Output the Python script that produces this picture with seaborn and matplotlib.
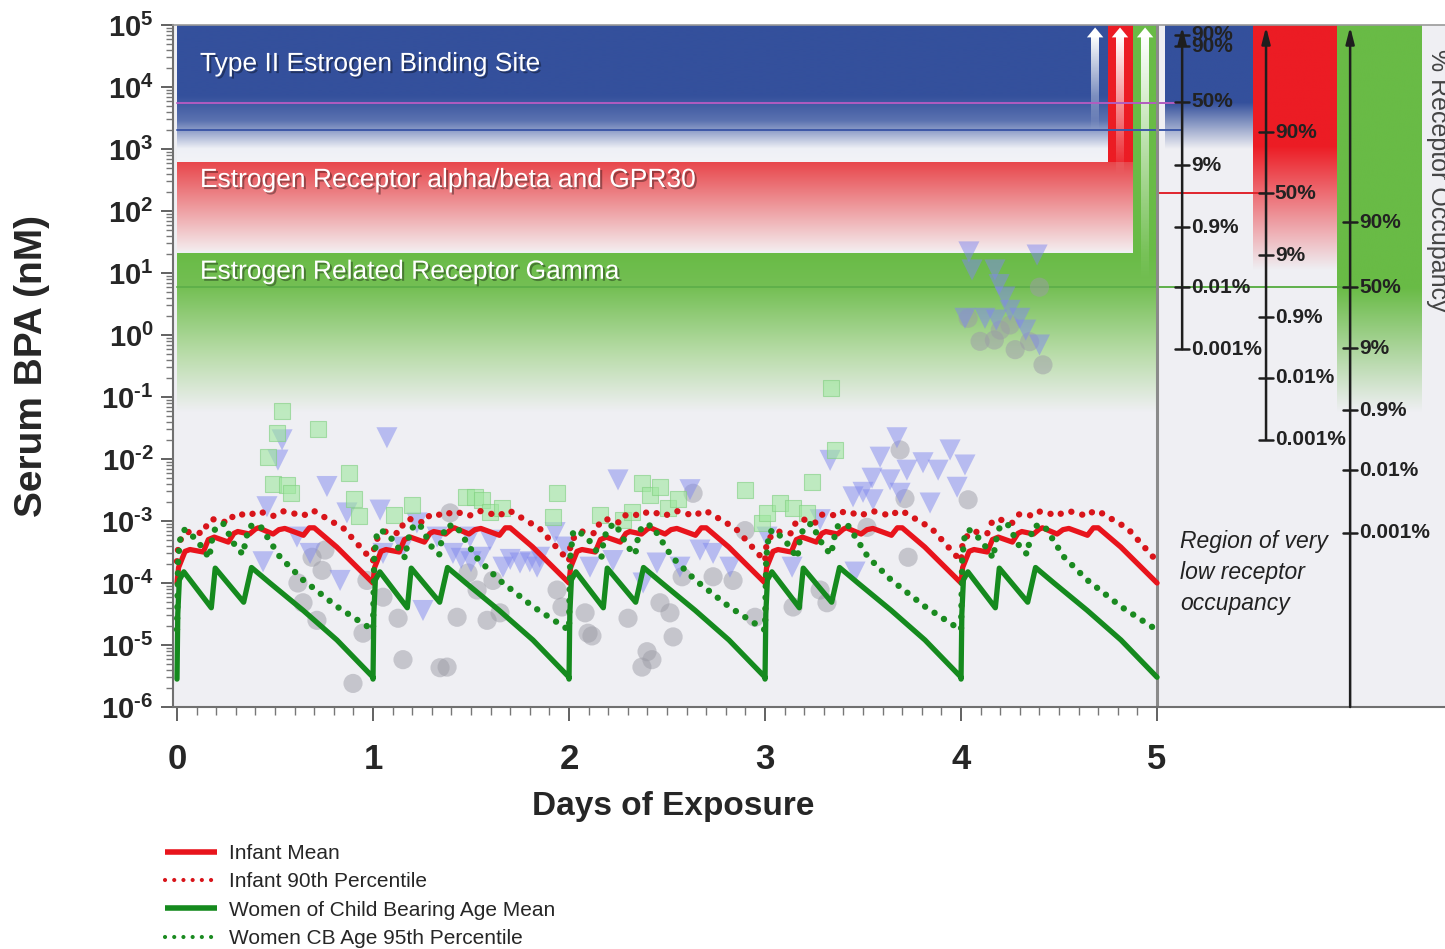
import numpy as np
import pandas as pd
import matplotlib
matplotlib.use("Agg")
import matplotlib.pyplot as plt
import matplotlib.patheffects as pe
from matplotlib.colors import to_rgba
from matplotlib.lines import Line2D
from matplotlib.ticker import FixedLocator, LogLocator, NullFormatter, FixedFormatter
import seaborn as sns

# ---------------------------------------------------------------- data
DAYS = [0, 1, 2, 3, 4]
X_TICKS = [0, 1, 2, 3, 4, 5]
Y_EXPONENTS = [-6, -5, -4, -3, -2, -1, 0, 1, 2, 3, 4, 5]

# one-day serum profiles (fraction of day, log10 nM); same every day
infant_mean_t = [0.0, 0.008, 0.041, 0.066, 0.134, 0.16, 0.19, 0.262, 0.29, 0.31, 0.37,
                 0.40, 0.415, 0.49, 0.52, 0.55, 0.645, 0.675, 0.70, 0.815, 1.0]
infant_mean_lv = [-4.0, -3.75, -3.49, -3.46, -3.50, -3.30, -3.26, -3.34, -3.20, -3.17, -3.21,
                  -3.13, -3.11, -3.21, -3.14, -3.12, -3.23, -3.11, -3.11, -3.42, -4.0]
infant_p90_t = [0.0, 0.008, 0.041, 0.066, 0.134, 0.16, 0.19, 0.262, 0.29, 0.31, 0.37,
                0.40, 0.415, 0.49, 0.52, 0.55, 0.645, 0.675, 0.70, 0.85, 1.0]
infant_p90_lv = [-3.65, -3.35, -3.2, -3.17, -3.2, -3.0, -2.97, -3.03, -2.9, -2.88, -2.92,
                 -2.85, -2.84, -2.92, -2.86, -2.84, -2.92, -2.84, -2.84, -3.12, -3.65]
women_mean_t = [0.0, 0.004, 0.012, 0.035, 0.175, 0.195, 0.340, 0.380, 0.474, 0.643, 0.816, 1.0]
women_mean_lv = [-5.55, -4.5, -3.95, -3.82, -4.40, -3.76, -4.31, -3.75, -4.0, -4.44, -4.92, -5.52]
women_p95_t = [0.0, 0.006, 0.02, 0.04, 0.1, 0.165, 0.175, 0.195, 0.236, 0.3, 0.338, 0.35,
               0.372, 0.423, 0.525, 0.643, 0.816, 1.0]
women_p95_lv = [-4.75, -3.6, -3.2, -3.14, -3.3, -3.6, -3.35, -3.12, -3.04, -3.42, -3.54, -3.3,
                -3.08, -3.07, -3.58, -3.95, -4.38, -4.76]

# biomonitoring points (days, nM)
circ_t = [0.898, 1.153, 1.342, 1.378, 0.949, 0.714, 0.643, 0.617, 0.74, 0.689, 0.755, 0.969,
          1.051, 1.128, 1.429, 1.485, 1.531, 1.582, 1.648, 1.612, 1.393, 1.939, 1.964, 2.082,
          2.097, 2.117, 2.301, 2.398, 2.423, 2.372, 2.531, 2.515, 2.464, 2.577, 2.735, 2.837,
          2.898, 2.949, 3.143, 3.316, 3.281, 3.73, 3.689, 3.714, 4.036, 3.52, 2.633,
          4.036, 4.097, 4.17, 4.2, 4.276, 4.35, 4.40, 4.418, 4.25]
circ_v = [2.4e-6, 5.8e-6, 4.3e-6, 4.4e-6, 1.55e-5, 2.5e-5, 4.8e-5, 1e-4, 1.6e-4, 2.6e-4, 3.4e-4, 1.1e-4,
          5.9e-5, 2.7e-5, 2.8e-5, 1.45e-4, 7.7e-5, 2.5e-5, 3.3e-5, 1.1e-4, 1.35e-3, 7.7e-5, 4.1e-5, 3.3e-5,
          1.55e-5, 1.4e-5, 2.7e-5, 7.8e-6, 5.8e-6, 4.4e-6, 1.35e-5, 3.3e-5, 4.8e-5, 1.26e-4, 1.26e-4, 1.1e-4,
          7e-4, 2.8e-5, 4.1e-5, 4.8e-5, 7.7e-5, 2.6e-4, 0.014, 2.3e-3, 2.2e-3, 7.9e-4, 2.8e-3,
          1.86, 0.79, 0.83, 1.2, 0.58, 0.78, 5.9, 0.33, 1.45]
tri_t = [0.536, 0.515, 0.459, 0.765, 1.071, 1.036, 0.867, 0.439, 0.832, 1.255, 1.051, 0.679,
         0.612, 1.153, 1.408, 1.663, 1.75, 1.837, 1.929, 1.98, 1.224, 1.327, 1.495, 1.597,
         1.45, 1.5, 1.55, 1.7, 1.8, 1.85,
         2.25, 2.617, 2.668, 2.566, 2.449, 2.224, 2.107, 2.378, 3.332, 3.459, 3.673, 3.587,
         3.546, 3.5, 3.638, 3.724, 3.806, 3.883, 3.944, 4.02, 3.842, 3.98, 3.689, 3.551,
         3.449, 3.281, 3.138, 3.01, 2.821, 2.735,
         4.04, 4.388, 4.056, 4.173, 4.194, 4.224, 4.25, 4.122, 4.02, 4.3, 4.33, 4.40, 4.18]
tri_v = [0.0204, 0.0096, 1.7e-3, 3.6e-3, 0.022, 1.5e-3, 1.35e-3, 2.2e-4, 1.1e-4, 3.6e-5, 3e-4, 3e-4,
         5.5e-4, 3.8e-4, 3e-4, 1.8e-4, 2.1e-4, 1.8e-4, 6.5e-4, 3.8e-4, 9.3e-4, 5.5e-4, 5.5e-4, 4.9e-4,
         2.5e-4, 2.2e-4, 2.6e-4, 2.4e-4, 2.2e-4, 2.6e-4,
         4.6e-3, 3.2e-3, 3.4e-4, 1.8e-4, 2.1e-4, 2.3e-4, 1.8e-4, 1e-4, 9.5e-3, 1.5e-4, 0.022, 0.0107,
         4.9e-3, 2.9e-3, 4.6e-3, 6.6e-3, 8.7e-3, 6.6e-3, 0.014, 8e-3, 1.95e-3, 3.5e-3, 2.8e-3, 2.2e-3,
         2.45e-3, 1.05e-3, 1.8e-4, 5.5e-4, 1.8e-4, 3e-4,
         21.9, 19.5, 11.2, 11.2, 6.5, 4.1, 2.5, 1.86, 1.86, 1.86, 1.2, 0.69, 1.74]
sq_t = [0.536, 0.51, 0.464, 0.49, 0.561, 0.582, 0.719, 0.878, 0.903, 0.929, 1.107, 1.199,
        1.474, 1.52, 1.556, 1.597, 1.658, 1.939, 1.918, 2.158, 2.276, 2.321, 2.372, 2.413,
        2.464, 2.505, 2.556, 2.898, 2.985, 3.01, 3.077, 3.143, 3.214, 3.24, 3.357, 3.337]
sq_v = [0.059, 0.026, 0.0107, 0.004, 0.0038, 0.0028, 0.03, 0.0059, 0.0023, 0.0012, 0.00126, 0.0018,
        0.00245, 0.00245, 0.0022, 0.0014, 0.0016, 0.0028, 0.00115, 0.00126, 0.00105, 0.0014, 0.0041, 0.0026,
        0.0035, 0.0016, 0.0023, 0.0032, 0.00093, 0.00135, 0.00195, 0.0016, 0.00135, 0.0043, 0.0141, 0.14]

# receptor affinity lines (log10 nM) and their x extents (days)
kd_lv = [3.74, 3.31, 2.29, 0.77]
kd_x0 = [0.0, 0.0, 5.0, 0.0]
kd_x1 = [5.128, 5.128, 5.556, 5.985]
kd_color = ["#b25cc0", "#3d58a8", "#e0242c", "#5fb04a"]

# occupancy scales
scale_x = [5.128, 5.556, 5.985]
scale_bottom_lv = [-0.23, -1.69, -6.0]
blue_occ_lv = [4.84, 4.66, 3.76, 2.74, 1.74, 0.77, -0.23]
blue_occ_lab = ["90%", "90%", "50%", "9%", "0.9%", "0.01%", "0.001%"]
red_occ_lv = [3.27, 2.29, 1.29, 0.29, -0.69, -1.69]
green_occ_lv = [1.82, 0.77, -0.21, -1.21, -2.18, -3.19]
occ_lab = ["90%", "50%", "9%", "0.9%", "0.01%", "0.001%"]

band_labels = ["Type II Estrogen Binding Site", "Estrogen Receptor alpha/beta and GPR30",
               "Estrogen Related Receptor Gamma"]
band_label_lv = [4.37, 2.5, 1.02]
legend_labels = ["Infant Mean", "Infant 90th Percentile",
                 "Women of Child Bearing Age Mean", "Women CB Age 95th Percentile"]

# ---------------------------------------------------------------- style
sns.set_theme(style="ticks")
REG = ["Liberation Sans", "DejaVu Sans"]
plt.rcParams["font.family"] = REG
plt.rcParams["mathtext.fontset"] = "custom"
plt.rcParams["mathtext.rm"] = "Liberation Sans"
plt.rcParams["mathtext.bf"] = "Liberation Sans:bold"
plt.rcParams["mathtext.it"] = "Liberation Sans:italic"

BG = "#efeff3"
BLUE = "#34509c"
RED = "#ec1c24"
GREEN = "#69bb46"
RED_CURVE = "#e8141c"
GREEN_CURVE = "#158a1e"

fig = plt.figure(figsize=(14.45, 9.49), dpi=100)
W, H = 1445, 949
ax = fig.add_axes([173 / W, 1 - 707 / H, 1 - 173 / W, 682 / H])
ax.set_facecolor(BG)
ax.set_yscale("log")

XMIN, XMAX = -0.0204, 6.469
LVMIN, LVMAX = -6.0, 5.0


def fx(t):
    return (t - XMIN) / (XMAX - XMIN)


def fy(lv):
    return (lv - LVMIN) / (LVMAX - LVMIN)


def grad_rect(x0, x1, stops, z=0.5):
    lvs = np.array([s[0] for s in stops], dtype=float)
    cols = np.array([to_rgba(s[1], s[2] if len(s) > 2 else 1.0) for s in stops])
    order = np.argsort(lvs)
    lvs, cols = lvs[order], cols[order]
    top, bot = lvs.max(), lvs.min()
    n = 400
    grid = np.linspace(top, bot, n)
    img = np.stack([np.interp(grid, lvs, cols[:, k]) for k in range(4)], axis=-1).reshape(n, 1, 4)
    ax.imshow(img, extent=[fx(x0), fx(x1), fy(bot), fy(top)], transform=ax.transAxes,
              aspect="auto", interpolation="bilinear", origin="upper", zorder=z)


# receptor bands
grad_rect(0.0, 4.75, [(5.0, BLUE), (3.85, BLUE), (3.45, "#5b72b0"), (3.0, "#eef0f6"), (2.77, "#f3f3f7")])
grad_rect(4.75, 4.877, [(5.0, RED), (2.77, RED)])
grad_rect(0.0, 4.877, [(2.77, "#e8464b"), (1.35, "#f4ecee")])
grad_rect(4.877, 5.0, [(5.0, GREEN), (1.3, GREEN)])
grad_rect(0.0, 5.0, [(1.3, GREEN), (0.75, "#74bf54"), (-0.3, "#b8dca8"), (-1.25, BG)])
# right-hand occupancy columns
grad_rect(5.04, 5.49, [(5.0, BLUE), (3.75, BLUE), (3.0, BG)])
grad_rect(5.49, 5.92, [(5.0, RED), (3.05, RED), (1.05, BG)])
grad_rect(5.92, 6.35, [(5.0, GREEN), (0.75, GREEN), (-1.25, BG)])

# white arrows in the bands
arrow_x = [4.684, 4.811, 4.939]
arrow_bottom_lv = [3.31, 2.6, 0.9]
for xa, lb in zip(arrow_x, arrow_bottom_lv):
    grad_rect(xa - 0.02, xa + 0.02, [(4.82, "white", 1.0), (lb, "white", 0.0)], z=0.7)
    hw = 0.042
    ax.fill([fx(xa - hw), fx(xa + hw), fx(xa)], [fy(4.80), fy(4.80), fy(4.96)],
            transform=ax.transAxes, color="white", zorder=0.8, lw=0)

# affinity lines
for lv, x0, x1, c in zip(kd_lv, kd_x0, kd_x1, kd_color):
    ax.plot([x0, x1], [10 ** lv, 10 ** lv], color=c, lw=1.4, zorder=1.2)

# divider
ax.axvline(5.0, color="#8a8a8a", lw=2.2, zorder=1.3)

# ---------------------------------------------------------------- data marks
sns.scatterplot(x=circ_t, y=circ_v, marker="o", s=190, color="#9c9ca6", alpha=0.5,
                edgecolor="none", ax=ax, zorder=2, legend=False)
sns.scatterplot(x=tri_t, y=tri_v, marker="v", s=230, color="#8088ee", alpha=0.5,
                edgecolor="none", ax=ax, zorder=2.1, legend=False)
sns.scatterplot(x=sq_t, y=sq_v, marker="s", s=140, color="#9ee89e", alpha=0.6,
                edgecolor="#7fcf7f", linewidth=0.8, ax=ax, zorder=2.2, legend=False)


def tile(pt, plv):
    t = np.concatenate([d + np.asarray(pt, dtype=float) for d in DAYS])
    v = np.concatenate([10.0 ** np.asarray(plv, dtype=float) for d in DAYS])
    return t, v


DOT = (0, (0.01, 1.75))
series = [
    (infant_mean_t, infant_mean_lv, RED_CURVE, "-", 3.8),
    (infant_p90_t, infant_p90_lv, "#d8141a", DOT, 4.6),
    (women_mean_t, women_mean_lv, GREEN_CURVE, "-", 3.8),
    (women_p95_t, women_p95_lv, "#1a8a20", DOT, 4.6),
]
for pt, plv, c, ls, lw in series:
    t, v = tile(pt, plv)
    sns.lineplot(x=t, y=v, ax=ax, color=c, lw=lw, linestyle=ls, estimator=None, sort=False,
                 dash_capstyle="round", solid_capstyle="round", solid_joinstyle="round",
                 zorder=3)

# ---------------------------------------------------------------- band labels
shadow = [pe.withSimplePatchShadow(offset=(1.5, -1.5), shadow_rgbFace="black", alpha=0.35)]
for lab, lv in zip(band_labels, band_label_lv):
    ax.text(0.117, 10 ** lv, lab, color="white", fontsize=19, va="center", ha="left",
            family=REG, zorder=5, path_effects=shadow)

# ---------------------------------------------------------------- occupancy scales
scale_ticks = [(blue_occ_lv, blue_occ_lab), (red_occ_lv, occ_lab), (green_occ_lv, occ_lab)]
for xs, bot, (lvs, labs) in zip(scale_x, scale_bottom_lv, scale_ticks):
    ax.annotate("", xy=(xs, 10 ** 4.97), xytext=(xs, 10 ** bot), xycoords="data",
                arrowprops=dict(arrowstyle="-|>,head_length=0.7,head_width=0.18", color="#1e1e1e",
                                lw=1.8, shrinkA=0, shrinkB=0, mutation_scale=14), zorder=4)
    for lv, lab in zip(lvs, labs):
        ax.plot([xs - 0.035, xs + 0.035], [10 ** lv, 10 ** lv], color="#1e1e1e", lw=1.8, zorder=4)
        ax.text(xs + 0.045, 10 ** lv, lab, fontsize=15, fontweight="bold", family=REG,
                color="#222222", va="center", ha="left", zorder=4)

ax.text(5.117, 10 ** -3.83, "Region of very\nlow receptor\noccupancy", fontsize=16.5,
        style="italic", family=REG, color="#222222", va="center", ha="left",
        linespacing=1.45, zorder=4)
fig.text(1438 / W, 1 - 180 / H, "% Receptor Occupancy", rotation=270, fontsize=18,
         color="#444444", va="center", ha="center", family=REG)

# ---------------------------------------------------------------- axes
HY = "\u2010"
ax.set_xlim(XMIN, XMAX)
ax.set_ylim(10.0 ** LVMIN, 10.0 ** LVMAX)
ax.set_xticks(X_TICKS, labels=[str(x) for x in X_TICKS], fontsize=25, fontweight="bold",
              family=REG)
ax.xaxis.set_minor_locator(FixedLocator(np.arange(0, 5.001, 0.1)))
ax.yaxis.set_major_locator(FixedLocator([10.0 ** e for e in Y_EXPONENTS]))
ax.yaxis.set_major_formatter(FixedFormatter(
    [r"$\mathbf{10^{%s}}$" % str(e).replace("-", HY) for e in Y_EXPONENTS]))
ax.yaxis.set_minor_locator(LogLocator(base=10, subs=np.arange(2, 10), numticks=30))
ax.yaxis.set_minor_formatter(NullFormatter())
ax.tick_params(axis="y", which="major", labelsize=21, direction="out", length=9, width=1.3,
               color="#555555", pad=5)
ax.tick_params(axis="y", which="minor", direction="out", length=5, width=1.0, color="#777777")
ax.tick_params(axis="x", which="major", direction="out", length=10, width=1.3, color="#555555",
               pad=16)
ax.tick_params(axis="x", which="minor", direction="out", length=6, width=1.0, color="#777777")

for side in ["left", "bottom"]:
    ax.spines[side].set_color("#707070")
    ax.spines[side].set_linewidth(1.5)
ax.spines["top"].set_color("#9a9a9a")
ax.spines["top"].set_linewidth(1.2)
ax.spines["right"].set_visible(False)

ax.set_ylabel("Serum BPA (nM)", fontsize=28, fontweight="bold", family=REG)
ax.yaxis.set_label_coords(-0.097, 0.5)
ax.set_xlabel("Days of Exposure", fontsize=24, fontweight="bold", family=REG)
ax.xaxis.set_label_coords(0.393, -0.123)

# ---------------------------------------------------------------- legend
handles = [
    Line2D([], [], color=RED_CURVE, lw=4, solid_capstyle="butt"),
    Line2D([], [], color="#d8141a", lw=3, linestyle=(0, (0.01, 2.2)), dash_capstyle="round"),
    Line2D([], [], color=GREEN_CURVE, lw=4, solid_capstyle="butt"),
    Line2D([], [], color="#1a8a20", lw=3, linestyle=(0, (0.01, 2.2)), dash_capstyle="round"),
]
fig.legend(handles, legend_labels, loc="upper left", bbox_to_anchor=(165 / W, 1 - 844 / H),
           frameon=False, handlelength=2.5, handletextpad=0.55,
           labelspacing=0.45, borderpad=0, borderaxespad=0, prop={"family": REG, "size": 15})

fig.savefig("out.png", dpi=100)
